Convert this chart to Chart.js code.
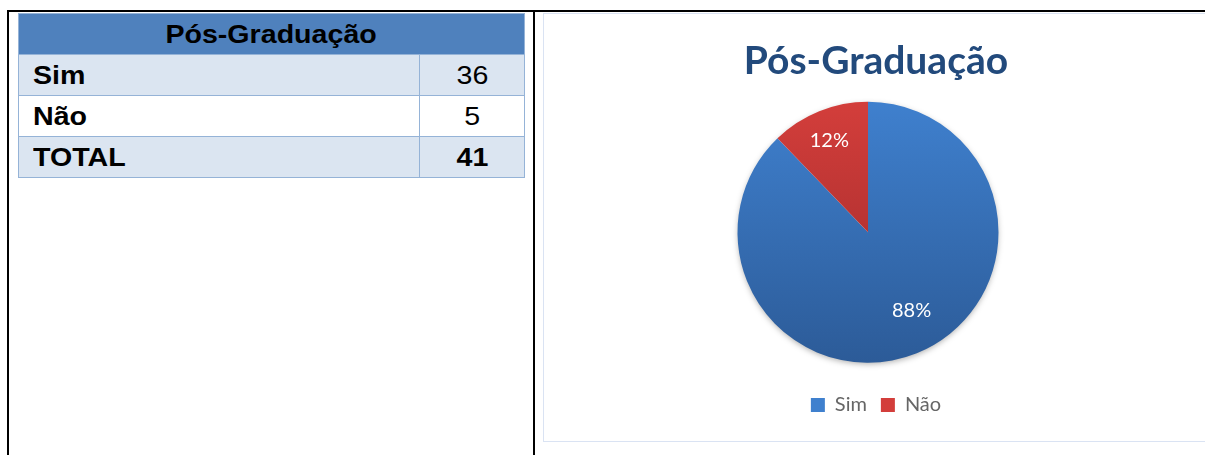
<!DOCTYPE html>
<html>
<head>
<meta charset="utf-8">
<script src="https://cdn.jsdelivr.net/npm/chart.js@4.4.1/dist/chart.umd.min.js"></script>
<style>
  body { margin: 0; background: #fff; width: 1205px; height: 455px; overflow: hidden; position: relative; }
  .line { position: absolute; background: #000; }
  table.dados {
    position: absolute; left: 18px; top: 13px; width: 507px;
    border-collapse: collapse; font-family: "Liberation Sans", Arial, sans-serif;
    font-size: 26px; color: #000;
  }
  table.dados td, table.dados th { border: 1.5px solid #95b3d7; height: 40px; padding: 0 14px; }
  table.dados th { background: #4f81bd; font-weight: bold; text-align: center; }
  table.dados td.nome { font-weight: bold; text-align: left; width: 372px; }
  table.dados td.valor { text-align: center; }
  table.dados tr.claro td { background: #dbe5f1; }
  table.dados span { display: inline-block; transform: scaleX(1.1); }
  table.dados td.nome span { transform-origin: left center; }
  .moldura { position: absolute; left: 543px; top: 13px; width: 700px; height: 427px; border: 1.5px solid #dae3f3; }
  .grafico { position: absolute; left: 548px; top: 13px; width: 656px; height: 428px; }
</style>
</head>
<body>
<div class="line" style="left:7px; top:10px; width:1198px; height:2px;"></div>
<div class="line" style="left:7px; top:10px; width:2px; height:445px;"></div>
<div class="line" style="left:533px; top:10px; width:2px; height:445px;"></div>

<table class="dados" id="tabela"></table>

<div class="moldura"></div>
<div class="grafico"><canvas id="pizza"></canvas></div>

<script>
const titulo = "Pós-Graduação";
const categorias = ["Sim", "Não"];
const valores = [36, 5];
const rotuloTotal = "TOTAL";

// cores (topo e base do degrade)
const coresTopo = ["#3f80ce", "#d33e3b"];
const coresBase = ["#2c5b98", "#9c2829"];
// pequeno ajuste do rotulo como no Excel (melhor ajuste)
const ajusteRotulo = [{ dx: 8, dy: -10 }, { dx: -3, dy: -3 }];

// monta a tabela
const tabela = document.getElementById("tabela");
const total = valores.reduce((a, b) => a + b, 0);
let html = '<tr><th colspan="2"><span>' + titulo + '</span></th></tr>';
categorias.forEach((c, i) => {
  html += '<tr class="' + (i % 2 === 0 ? "claro" : "") + '"><td class="nome"><span>' + c +
    '</span></td><td class="valor"><span>' + valores[i] + '</span></td></tr>';
});
html += '<tr class="claro"><td class="nome"><span>' + rotuloTotal +
  '</span></td><td class="valor" style="font-weight:bold"><span>' + total + '</span></td></tr>';
tabela.innerHTML = html;

// degrade vertical sobre a pizza (usa a area do grafico)
function degrade(ctx) {
  const area = ctx.chart.chartArea;
  if (!area) return coresTopo[ctx.dataIndex];
  const g = ctx.chart.ctx.createLinearGradient(0, area.top, 0, area.bottom);
  g.addColorStop(0, coresTopo[ctx.dataIndex]);
  g.addColorStop(1, coresBase[ctx.dataIndex]);
  return g;
}

// desloca a pizza um pouco para a esquerda, titulo e legenda ficam centrados
const deslocaPizza = {
  id: "deslocaPizza",
  afterLayout(chart) {
    chart.chartArea.right -= 16;
    chart.chartArea.width -= 16;
  }
};

// sombra leve atras da pizza
const sombra = {
  id: "sombra",
  beforeDatasetsDraw(chart) {
    const arc = chart.getDatasetMeta(0).data[0];
    if (!arc) return;
    const ctx = chart.ctx;
    ctx.save();
    ctx.shadowColor = "rgba(0,0,0,0.35)";
    ctx.shadowBlur = 6;
    ctx.shadowOffsetY = 2;
    ctx.fillStyle = "#fff";
    ctx.beginPath();
    ctx.arc(arc.x, arc.y, arc.outerRadius - 1, 0, Math.PI * 2);
    ctx.fill();
    ctx.restore();
  }
};

// rotulos de porcentagem
const rotulos = {
  id: "rotulos",
  afterDatasetsDraw(chart) {
    const ctx = chart.ctx;
    const meta = chart.getDatasetMeta(0);
    ctx.save();
    ctx.fillStyle = "#fff";
    ctx.font = "20px Lato";
    ctx.textAlign = "center";
    ctx.textBaseline = "middle";
    meta.data.forEach((arc, i) => {
      const meio = (arc.startAngle + arc.endAngle) / 2;
      const r = arc.outerRadius * 0.73;
      const pct = Math.round(valores[i] / total * 100) + "%";
      ctx.fillText(pct, arc.x + Math.cos(meio) * r + ajusteRotulo[i].dx,
        arc.y + Math.sin(meio) * r + ajusteRotulo[i].dy);
    });
    ctx.restore();
  }
};

new Chart(document.getElementById("pizza"), {
  type: "pie",
  data: {
    labels: categorias,
    datasets: [{
      data: valores,
      backgroundColor: degrade,
      borderWidth: 0
    }]
  },
  options: {
    responsive: true,
    maintainAspectRatio: false,
    animation: false,
    layout: { padding: { bottom: 16 } },
    plugins: {
      title: {
        display: true,
        text: titulo,
        color: "#224a7c",
        font: { family: "Lato", size: 39, weight: "bold" },
        padding: { top: 25, bottom: 17 }
      },
      legend: {
        position: "bottom",
        title: { display: true, text: "", font: { size: 1 }, padding: { top: 0, bottom: 17 } },
        labels: {
          boxWidth: 14,
          boxHeight: 14,
          padding: 14,
          color: "#23416d",
          font: { family: "Lato", size: 20 },
          generateLabels(chart) {
            return categorias.map((c, i) => ({
              text: c,
              fillStyle: coresTopo[i],
              strokeStyle: coresTopo[i],
              lineWidth: 0,
              index: i
            }));
          }
        }
      },
      tooltip: { enabled: false }
    }
  },
  plugins: [deslocaPizza, sombra, rotulos]
});
</script>
</body>
</html>
